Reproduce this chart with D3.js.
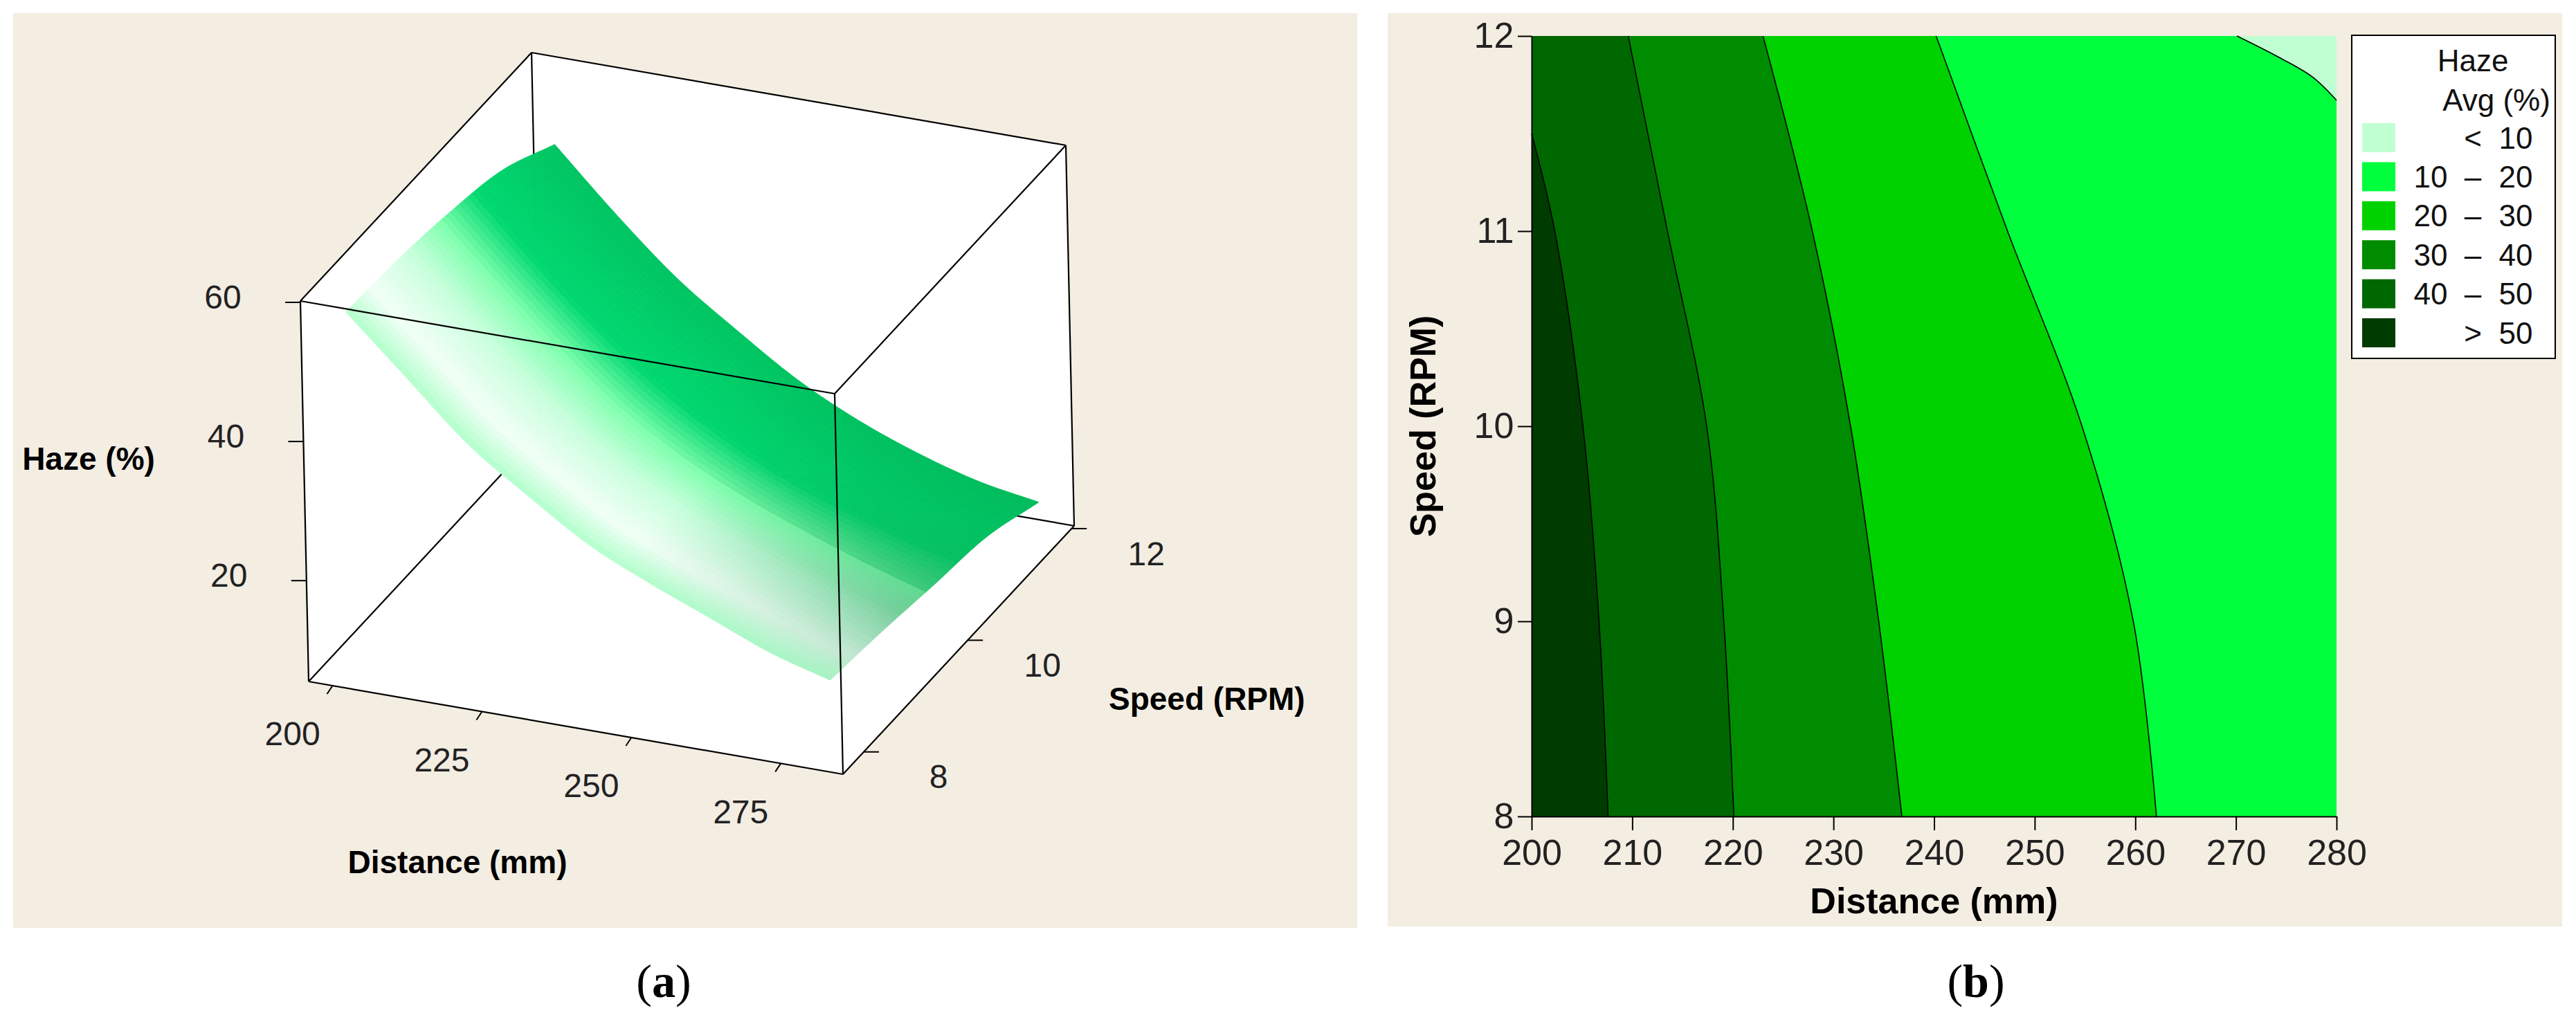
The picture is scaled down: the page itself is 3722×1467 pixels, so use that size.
<!DOCTYPE html>
<html><head><meta charset="utf-8">
<script src="https://cdn.jsdelivr.net/npm/d3@7"></script>
<style>body{margin:0;background:#fff}svg{display:block}</style>
</head><body>
<svg id="c" width="3722" height="1467"></svg>
<script>
// ---------- data ----------
const distances = [200,210,220,230,240,250,260,270,280];
const speeds = [8,9,10,11,12];
// haze grid rows = speeds, cols = distances
const hazeGrid = [
  [56.0,48.0,40.0,34.0,28.5,24.5,21.0,17.5,15.0],
  [55.5,47.3,39.4,32.8,27.3,23.3,19.9,16.7,14.0],
  [54.3,46.0,38.2,31.2,25.9,21.7,18.3,15.3,12.7],
  [52.3,43.4,35.4,29.0,23.5,19.0,15.8,13.2,11.5],
  [48.0,39.5,31.8,25.7,20.1,15.8,12.5,10.0,8.5]
];
const distTicks3d = [200,225,250,275];
const speedTicks3d = [8,10,12];
const hazeTicks3d = [20,40,60];
// contour boundaries [distance, speed]
const b50 = [[207.6,8],[206.7,9],[205.1,10],[202.3,11],[200,11.5]];
const b40 = [[220.1,8],[219.1,9],[217.4,10],[213.5,11],[209.6,12]];
const b30 = [[236.8,8],[234.5,9],[231.7,10],[227.9,11],[223,12]];
const b20 = [[262.1,8],[259.8,9],[254.7,10],[247.3,11],[240.2,12]];
const b10 = [[270.1,12],[274.3,11.89],[277.6,11.79],[280,11.67]];
const distTicks2d = [200,210,220,230,240,250,260,270,280];
const speedTicks2d = [8,9,10,11,12];
const legendLabels = [["<","","10"],["10","–","20"],["20","–","30"],["30","–","40"],["40","–","50"],[">","","50"]];
const legendColors = ["#c0ffd2","#00ff3c","#00d200","#008c00","#006800","#003c00"];

const svg = d3.select("#c");
const BG = "#f3ede2";
const tickFont = "'Liberation Sans',Arial,sans-serif";
const boldFont = "'Liberation Sans',Arial,sans-serif";

svg.append("rect").attr("x",19).attr("y",19).attr("width",1942).attr("height",1322).attr("fill",BG);
svg.append("rect").attr("x",2005).attr("y",19).attr("width",1697).attr("height",1320).attr("fill",BG);

// ---------- panel a : 3D ----------
const A = d3.scaleLinear().domain([196,285.4]).range([0,1]);
const B = d3.scaleLinear().domain([7.6,12.05]).range([0,1]);
const C = d3.scaleLinear().domain([5.5,60.2]).range([0,1]);
const O=[446,985], D=[772,134], S=[334,-359], Z=[-12,-550];
function P(d,s,z){const a=A(d),b=B(s),c=C(z);return [O[0]+D[0]*a+S[0]*b+Z[0]*c, O[1]+D[1]*a+S[1]*b+Z[1]*c];}
const g = svg.append("g");
const dMin=196,dMax=285.4,sMin=7.6,sMax=12.05,zMin=5.5,zMax=60.2;
const V = {
 BFL:P(dMin,sMin,zMin),BFR:P(dMax,sMin,zMin),BBR:P(dMax,sMax,zMin),BBL:P(dMin,sMax,zMin),
 TFL:P(dMin,sMin,zMax),TFR:P(dMax,sMin,zMax),TBR:P(dMax,sMax,zMax),TBL:P(dMin,sMax,zMax)};
g.append("polygon").attr("points",[V.BFL,V.BFR,V.BBR,V.TBR,V.TBL,V.TFL].map(p=>p.join(",")).join(" ")).attr("fill","#fff");
const edge=(p,q)=>g.append("line").attr("x1",p[0]).attr("y1",p[1]).attr("x2",q[0]).attr("y2",q[1]).attr("stroke","#000").attr("stroke-width",2.2);
edge(V.BFL,V.BBL);edge(V.BBL,V.BBR);edge(V.BBL,V.TBL);edge(V.TFL,V.TBL);edge(V.TBL,V.TBR);edge(V.TBR,V.BBR);

function cr1(arr,t){
  const n=arr.length; let i=Math.min(Math.floor(t),n-2); const f=t-i;
  const p1=arr[i],p2=arr[i+1];
  const p0=i>0?arr[i-1]:2*p1-p2, p3=i+2<n?arr[i+2]:2*p2-p1;
  return 0.5*((2*p1)+(-p0+p2)*f+(2*p0-5*p1+4*p2-p3)*f*f+(-p0+3*p1-3*p2+p3)*f*f*f);
}
function H(u,v){const col=hazeGrid.map(r=>cr1(r,u)); return cr1(col,v);}
const cScale = d3.scaleLinear().domain([0,0.12,0.3,0.45,0.62,1]).range(["#b2ffcc","#f2fff6","#c8ffdc","#80ffae","#00d870","#00c462"]).clamp(true);
const NU=96,NV=48;
const surf=g.append("g");
const cells=[];
for(let j=0;j<NV;j++)for(let i=0;i<NU;i++){
  const pt=(ii,jj)=>{const u=ii/NU*(distances.length-1),v=jj/NV*(speeds.length-1);
    return P(200+u*10,8+v,H(u,v));};
  cells.push({q:[pt(i,j),pt(i+1,j),pt(i+1,j+1),pt(i,j+1)],bn:(j+0.5)/NV,an:(i+0.5)/NU});
}
cells.sort((x,y)=>y.bn-x.bn);
cells.forEach(cl=>{
  const bn=cl.bn, an=cl.an;
  let col=d3.color(cScale(bn));
  const dark=Math.max(0,an-0.55)/0.45*Math.max(0,1-Math.abs(bn-0.35)/0.45)*0.5;
  col=d3.interpolateRgb(col,"#2f9a62")(dark);
  const shade2=Math.max(0,an-0.4)/0.6*Math.min(1,bn/0.5)*0.35;
  col=d3.interpolateRgb(col,"#00a850")(bn>0.45?shade2:0);
  surf.append("polygon").attr("points",cl.q.map(p=>p.join(",")).join(" ")).attr("fill",col).attr("stroke",col).attr("stroke-width",0.8);
});
edge(V.BFL,V.BFR);edge(V.BFR,V.BBR);edge(V.BFL,V.TFL);edge(V.TFL,V.TFR);edge(V.TFR,V.BFR);edge(V.TFR,V.TBR);

const txt=(x,y,t,o)=>{const e=g.append("text").attr("x",x).attr("y",y).text(t).attr("font-family",tickFont).attr("font-size",o&&o.fs||48).attr("fill","#222").attr("text-anchor",o&&o.anchor||"middle").attr("dominant-baseline","central");if(o&&o.bold)e.attr("font-weight","bold").attr("fill","#000");return e;};
distTicks3d.forEach(d=>{const p=P(d,sMin,zMin);g.append("line").attr("x1",p[0]).attr("y1",p[1]).attr("x2",p[0]-8).attr("y2",p[1]+12).attr("stroke","#000").attr("stroke-width",2);txt(p[0]-58,p[1]+70,d);});
speedTicks3d.forEach(s=>{const p=P(dMax,s,zMin);g.append("line").attr("x1",p[0]).attr("y1",p[1]).attr("x2",p[0]+22).attr("y2",p[1]).attr("stroke","#000").attr("stroke-width",2);txt(p[0]+108,p[1]+36,s);});
hazeTicks3d.forEach(z=>{const p=P(dMin,sMin,z);g.append("line").attr("x1",p[0]).attr("y1",p[1]).attr("x2",p[0]-22).attr("y2",p[1]).attr("stroke","#000").attr("stroke-width",2);txt(p[0]-112,p[1]-8,z);});
txt(128,663,"Haze (%)",{bold:true,fs:46});
txt(661,1246,"Distance (mm)",{bold:true,fs:46});
txt(1602,1010,"Speed (RPM)",{bold:true,fs:46,anchor:"start"});

// ---------- panel b : contour ----------
const x = d3.scaleLinear().domain([200,280]).range([2213,3376]);
const y = d3.scaleLinear().domain([8,12]).range([1180,52]);
const h = svg.append("g");
h.append("rect").attr("x",x(200)).attr("y",y(12)).attr("width",x(280)-x(200)).attr("height",y(8)-y(12)).attr("fill",legendColors[1]);
const line=d3.line().x(p=>x(p[0])).y(p=>y(p[1])).curve(d3.curveCatmullRom);
function leftRegion(bd,col){
  const last=bd[bd.length-1];
  h.append("path").attr("d",line(bd)+"L"+x(200)+","+y(last[1])+"L"+x(200)+","+y(8)+"Z").attr("fill",col);
}
leftRegion(b20,legendColors[2]);leftRegion(b30,legendColors[3]);leftRegion(b40,legendColors[4]);leftRegion(b50,legendColors[5]);
h.append("path").attr("d",line(b10)+"L"+x(280)+","+y(12)+"Z").attr("fill",legendColors[0]);
[b50,b40,b30,b20,b10].forEach(bd=>h.append("path").attr("d",line(bd)).attr("fill","none").attr("stroke","#000").attr("stroke-width",1.6));
h.append("g").attr("transform",`translate(0,${y(8)})`).call(d3.axisBottom(x).tickValues(distTicks2d).tickSize(20).tickSizeOuter(0))
 .call(a=>{a.select(".domain").attr("stroke-width",2);a.selectAll("line").attr("stroke-width",2);a.selectAll("text").attr("font-family",tickFont).attr("font-size",52).attr("fill","#222").attr("dy","0.9em");});
h.append("g").attr("transform",`translate(${x(200)},0)`).call(d3.axisLeft(y).tickValues(speedTicks2d).tickFormat(d3.format("d")).tickSize(20).tickSizeOuter(0))
 .call(a=>{a.select(".domain").attr("stroke-width",2);a.selectAll("line").attr("stroke-width",2);a.selectAll("text").attr("font-family",tickFont).attr("font-size",52).attr("fill","#222").attr("dx","-0.05em");});
h.append("text").attr("x",(x(200)+x(280))/2).attr("y",1302).attr("text-anchor","middle").attr("dominant-baseline","central").attr("font-family",boldFont).attr("font-weight","bold").attr("font-size",52).text("Distance (mm)");
h.append("text").attr("transform",`translate(2056,${(y(8)+y(12))/2}) rotate(-90)`).attr("text-anchor","middle").attr("dominant-baseline","central").attr("font-family",boldFont).attr("font-weight","bold").attr("font-size",52).text("Speed (RPM)");
h.append("rect").attr("x",3398).attr("y",51).attr("width",294).attr("height",467).attr("fill","#fff").attr("stroke","#000").attr("stroke-width",2);
const lt=(xx,yy,t,anc)=>h.append("text").attr("x",xx).attr("y",yy).attr("text-anchor",anc||"middle").attr("dominant-baseline","central").attr("font-family",tickFont).attr("font-size",44).attr("fill","#111").text(t);
lt(3573,87,"Haze");lt(3607,144,"Avg (%)");
legendColors.forEach((c,i)=>{const yy=199+i*56.4;h.append("rect").attr("x",3413).attr("y",yy-21).attr("width",48).attr("height",42).attr("fill",c);
 const L=legendLabels[i]; if(L[1]===""){lt(3573,yy,L[0]);lt(3635,yy,L[2]);}else{lt(3512,yy,L[0]);lt(3573,yy,L[1]);lt(3635,yy,L[2]);}});

const pl=(xx,t)=>{const e=svg.append("text").attr("x",xx).attr("y",1418).attr("text-anchor","middle").attr("dominant-baseline","central").attr("font-family","'Liberation Serif','DejaVu Serif',serif").attr("font-size",68);e.append("tspan").text("(");e.append("tspan").attr("font-weight","bold").text(t);e.append("tspan").text(")");};
pl(959,"a");pl(2855,"b");
</script></body></html>
